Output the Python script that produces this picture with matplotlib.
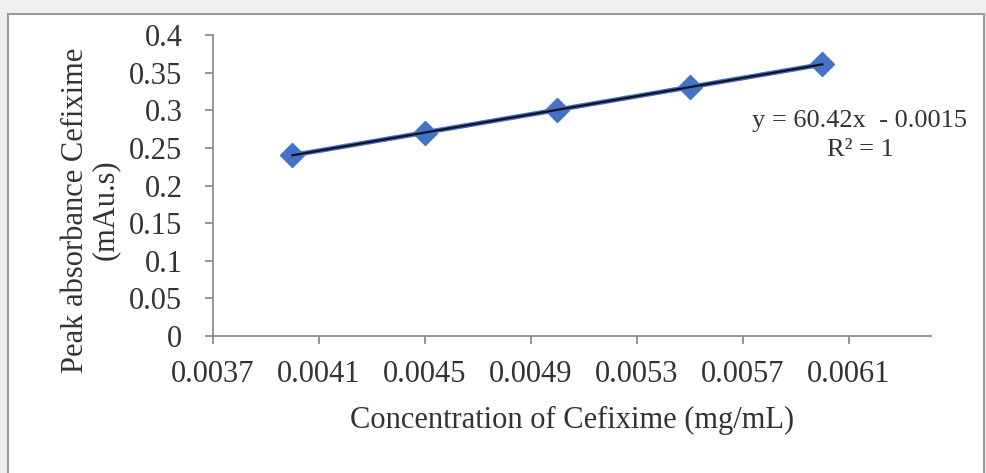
import numpy as np
import matplotlib.pyplot as plt
from matplotlib.patches import Rectangle

# calibration data for cefixime
conc = [0.0040, 0.0045, 0.0050, 0.0055, 0.0060]       # mg/mL
absorb = [0.2402, 0.2704, 0.3006, 0.3308, 0.3610]     # mAu.s
x_ticks = [0.0037, 0.0041, 0.0045, 0.0049, 0.0053, 0.0057, 0.0061]
y_ticks = [0, 0.05, 0.1, 0.15, 0.2, 0.25, 0.3, 0.35, 0.4]
y_tick_labels = ['0', '0.05', '0.1', '0.15', '0.2', '0.25', '0.3', '0.35', '0.4']

plt.rcParams['font.family'] = ['Liberation Serif', 'DejaVu Serif']

fig = plt.figure(figsize=(9.87, 4.73), dpi=100)
fig.patch.set_facecolor('#eef0f2')

# white chart area with grey border
fig.patches.append(Rectangle((8/987, -0.1), 976/987, 1 - 14/473 + 0.1,
                             transform=fig.transFigure, facecolor='white',
                             edgecolor='#9a9a9a', linewidth=1.5, zorder=-10))

ax = fig.add_axes([213/987, 1 - 336/473, (931 - 213)/987, (336 - 35)/473])
ax.set_facecolor('none')

# least squares trendline
slope, intercept = np.polyfit(conc, absorb, 1)
fit_x = np.array([conc[0], conc[-1]])

ax.plot(conc, absorb, color='#4472c4', linewidth=3.5, marker='D',
        markersize=12, markerfacecolor='#4472c4', markeredgecolor='#4472c4', zorder=3)
ax.plot(fit_x, slope * fit_x + intercept, color='#111122', linewidth=1.6, zorder=4)

ax.set_xlim(0.0037, 0.00641)
ax.set_ylim(0, 0.4)
ax.set_xticks(x_ticks)
ax.set_xticklabels([f'{t:.4f}' for t in x_ticks])
ax.set_yticks(y_ticks)
ax.set_yticklabels(y_tick_labels)

for side in ['top', 'right']:
    ax.spines[side].set_visible(False)
for side in ['left', 'bottom']:
    ax.spines[side].set_color('#8c8c8c')
    ax.spines[side].set_linewidth(1.3)
ax.tick_params(colors='#8c8c8c', labelcolor='#333333', labelsize=22,
               length=6, width=1.3)
ax.tick_params(axis='x', pad=11)
ax.tick_params(axis='y', pad=16)

ax.set_xlabel('Concentration of Cefixime (mg/mL)', fontsize=22, color='#333333')
ax.xaxis.label.set_va('center')
ax.xaxis.set_label_coords(0.5, -0.279)

ax.set_ylabel('Peak absorbance Cefixime\n(mAu.s)', fontsize=22,
              color='#333333', linespacing=1.05)
ax.yaxis.label.set_va('center')
ax.yaxis.set_label_coords(-0.171, 0.419)

ax.text(0.006142, 0.266, 'y = 60.42x  - 0.0015\nR² = 1', fontsize=19,
        ha='center', va='center', color='#333333', linespacing=1.4)

fig.savefig('out.png', dpi=100, facecolor=fig.get_facecolor())
